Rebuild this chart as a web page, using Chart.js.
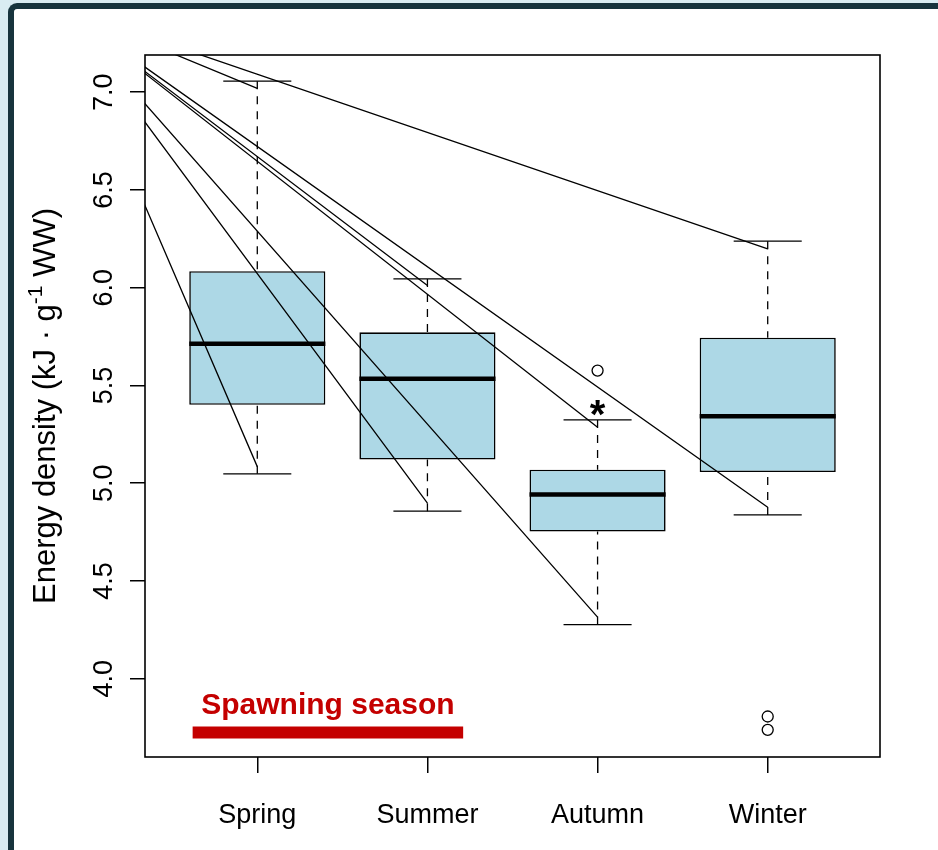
<!DOCTYPE html>
<html>
<head>
<meta charset="utf-8">
<script src="https://cdn.jsdelivr.net/npm/chart.js@4.4.1/dist/chart.umd.min.js"></script>
<style>
  html, body { margin: 0; padding: 0; overflow: hidden; background: #d9ecf2; }
  #panel {
    position: absolute; left: 8px; top: 3px; width: 1000px; height: 1000px;
    background: #fff; border-left: 6px solid #17343d; border-top: 6px solid #17343d;
    border-top-left-radius: 9px;
  }
  #chart { position: absolute; left: 0; top: 0; }
</style>
</head>
<body>
<div id="panel"></div>
<canvas id="chart" width="938" height="850"></canvas>
<script>
// box plot stats per season (kJ per g wet weight)
const seasons = ["Spring", "Summer", "Autumn", "Winter"];
const lowerWhisker = [5.048, 4.857, 4.277, 4.838];
const q1 = [5.401, 5.121, 4.753, 5.057];
const median = [5.713, 5.534, 4.942, 5.343];
const q3 = [6.084, 5.772, 5.069, 5.744];
const upperWhisker = [7.056, 6.045, 5.324, 6.238];

// outliers: season number and value
const outlierSeason = [3, 4, 4];
const outlierValue = [5.576, 3.807, 3.739];

// the fan of lines coming in from the top left corner
const lineOriginX = -0.164;
const lineOriginY = 7.438;
const lineEndUpper = [7.019, 6.011, 5.286, 6.199];
const lineEndLower = [5.085, 4.898, 4.315, 4.877];

const yTickLabels = ["4.0", "4.5", "5.0", "5.5", "6.0", "6.5", "7.0"];

// spawning season bar + label, significance star
const spawnStart = 0.62;
const spawnEnd = 2.21;
const spawnLevel = 3.725;
const spawnLabelLevel = 3.822;
const starSeason = 3;
const starLevel = 5.385;

const boxHalf = 0.4;
const capHalf = 0.2;
const red = "#c40000";
const font = '"Liberation Sans", Arial, Helvetica, sans-serif';

function segments(pairs) {
  const out = [];
  pairs.forEach((p) => {
    out.push(p[0], p[1], { x: p[1].x, y: null });
  });
  return out;
}

const whiskerData = segments(
  seasons.flatMap((s, i) => [
    [{ x: i + 1, y: upperWhisker[i] }, { x: i + 1, y: q3[i] }],
    [{ x: i + 1, y: lowerWhisker[i] }, { x: i + 1, y: q1[i] }],
  ])
);
const capData = segments(
  seasons.flatMap((s, i) => [
    [{ x: i + 1 - capHalf, y: lowerWhisker[i] }, { x: i + 1 + capHalf, y: lowerWhisker[i] }],
    [{ x: i + 1 - capHalf, y: upperWhisker[i] }, { x: i + 1 + capHalf, y: upperWhisker[i] }],
  ])
);
const medianData = segments(
  seasons.map((s, i) => [
    { x: i + 1 - boxHalf, y: median[i] },
    { x: i + 1 + boxHalf, y: median[i] },
  ])
);
const fanData = segments(
  seasons.flatMap((s, i) => [
    [{ x: lineOriginX, y: lineOriginY }, { x: i + 1, y: lineEndUpper[i] }],
    [{ x: lineOriginX, y: lineOriginY }, { x: i + 1, y: lineEndLower[i] }],
  ])
);

const annotations = {
  id: "annotations",
  afterDatasetsDraw(chart) {
    const { ctx, chartArea: a, scales } = chart;
    const x = scales.x, y = scales.y;
    ctx.save();

    // plot frame
    ctx.strokeStyle = "#000";
    ctx.lineWidth = 1.6;
    ctx.strokeRect(a.left, a.top, a.right - a.left, a.bottom - a.top);

    // y tick labels, parallel to the axis
    ctx.fillStyle = "#000";
    ctx.font = "27px " + font;
    ctx.textAlign = "center";
    ctx.textBaseline = "alphabetic";
    yTickLabels.forEach((t) => {
      ctx.save();
      ctx.translate(112, y.getPixelForValue(parseFloat(t)));
      ctx.rotate(-Math.PI / 2);
      ctx.fillText(t, 0, 0);
      ctx.restore();
    });

    // y axis title with superscript
    const p1 = "Energy density (kJ \u00b7 g", p2 = "-1", p3 = " WW)";
    ctx.font = "31px " + font;
    const w1 = ctx.measureText(p1).width;
    const w3 = ctx.measureText(p3).width;
    ctx.font = "21px " + font;
    const w2 = ctx.measureText(p2).width;
    ctx.save();
    ctx.translate(55, (a.top + a.bottom) / 2);
    ctx.rotate(-Math.PI / 2);
    ctx.textAlign = "left";
    let cx = -(w1 + w2 + w3) / 2;
    ctx.font = "31px " + font;
    ctx.fillText(p1, cx, 0);
    cx += w1;
    ctx.font = "21px " + font;
    ctx.fillText(p2, cx, -13);
    cx += w2;
    ctx.font = "31px " + font;
    ctx.fillText(p3, cx, 0);
    ctx.restore();

    // significance star
    ctx.font = "bold 40px " + font;
    ctx.textAlign = "center";
    const m = ctx.measureText("*");
    ctx.fillText(
      "*",
      x.getPixelForValue(starSeason),
      y.getPixelForValue(starLevel) + (m.actualBoundingBoxAscent - m.actualBoundingBoxDescent) / 2
    );

    // spawning season label
    ctx.fillStyle = red;
    ctx.font = "bold 30px " + font;
    ctx.fillText(
      "Spawning season",
      x.getPixelForValue((spawnStart + spawnEnd) / 2),
      y.getPixelForValue(spawnLabelLevel)
    );
    ctx.restore();
  },
};

const lineBase = {
  type: "line",
  borderColor: "#000",
  borderWidth: 1.3,
  pointRadius: 0,
  spanGaps: false,
  tension: 0,
};

new Chart(document.getElementById("chart"), {
  type: "bar",
  data: {
    datasets: [
      {
        ...lineBase,
        label: "fan",
        data: fanData,
        order: 0,
      },
      {
        ...lineBase,
        label: "spawning",
        data: [
          { x: spawnStart, y: spawnLevel },
          { x: spawnEnd, y: spawnLevel },
        ],
        borderColor: red,
        borderWidth: 12,
        borderCapStyle: "butt",
        order: 0,
      },
      {
        type: "scatter",
        label: "outliers",
        data: outlierSeason.map((s, i) => ({ x: s, y: outlierValue[i] })),
        pointStyle: "circle",
        pointRadius: 5.5,
        pointBorderColor: "#000",
        pointBackgroundColor: "rgba(0,0,0,0)",
        pointBorderWidth: 1.3,
        order: 1,
      },
      {
        ...lineBase,
        label: "median",
        data: medianData,
        borderWidth: 4.5,
        borderCapStyle: "butt",
        order: 2,
      },
      {
        ...lineBase,
        label: "caps",
        data: capData,
        order: 3,
      },
      {
        ...lineBase,
        label: "whiskers",
        data: whiskerData,
        borderDash: [8, 7],
        order: 4,
      },
      {
        type: "bar",
        label: "box",
        data: seasons.map((s, i) => ({ x: i + 1, y: [q1[i], q3[i]] })),
        backgroundColor: "#add8e6",
        borderColor: "#000",
        borderWidth: 1.6,
        borderSkipped: false,
        barPercentage: 0.8,
        categoryPercentage: 1,
        grouped: false,
        order: 5,
      },
    ],
  },
  options: {
    responsive: false,
    animation: false,
    devicePixelRatio: 1,
    layout: { padding: { top: 55, right: 58, bottom: 0, left: 0 } },
    plugins: {
      legend: { display: false },
      tooltip: { enabled: false },
    },
    scales: {
      x: {
        type: "linear",
        min: 0.34,
        max: 4.66,
        offset: false,
        afterBuildTicks: (s) => {
          s.ticks = seasons.map((_, i) => ({ value: i + 1 }));
        },
        afterFit: (s) => {
          s.height = 93;
        },
        ticks: {
          autoSkip: false,
          maxRotation: 0,
          color: "#000",
          padding: 26,
          font: { family: font, size: 27 },
          callback: (v) => seasons[Math.round(v) - 1],
        },
        grid: {
          drawOnChartArea: false,
          drawTicks: true,
          tickLength: 16,
          color: "#000",
          lineWidth: 1.5,
          offset: false,
        },
        border: { display: false },
      },
      y: {
        type: "linear",
        min: 3.6,
        max: 7.19,
        afterBuildTicks: (s) => {
          s.ticks = yTickLabels.map((t) => ({ value: parseFloat(t) }));
        },
        afterFit: (s) => {
          s.width = 145;
        },
        ticks: { display: false },
        grid: {
          drawOnChartArea: false,
          drawTicks: true,
          tickLength: 15,
          color: "#000",
          lineWidth: 1.5,
        },
        border: { display: false },
      },
    },
  },
  plugins: [annotations],
});
</script>
</body>
</html>
